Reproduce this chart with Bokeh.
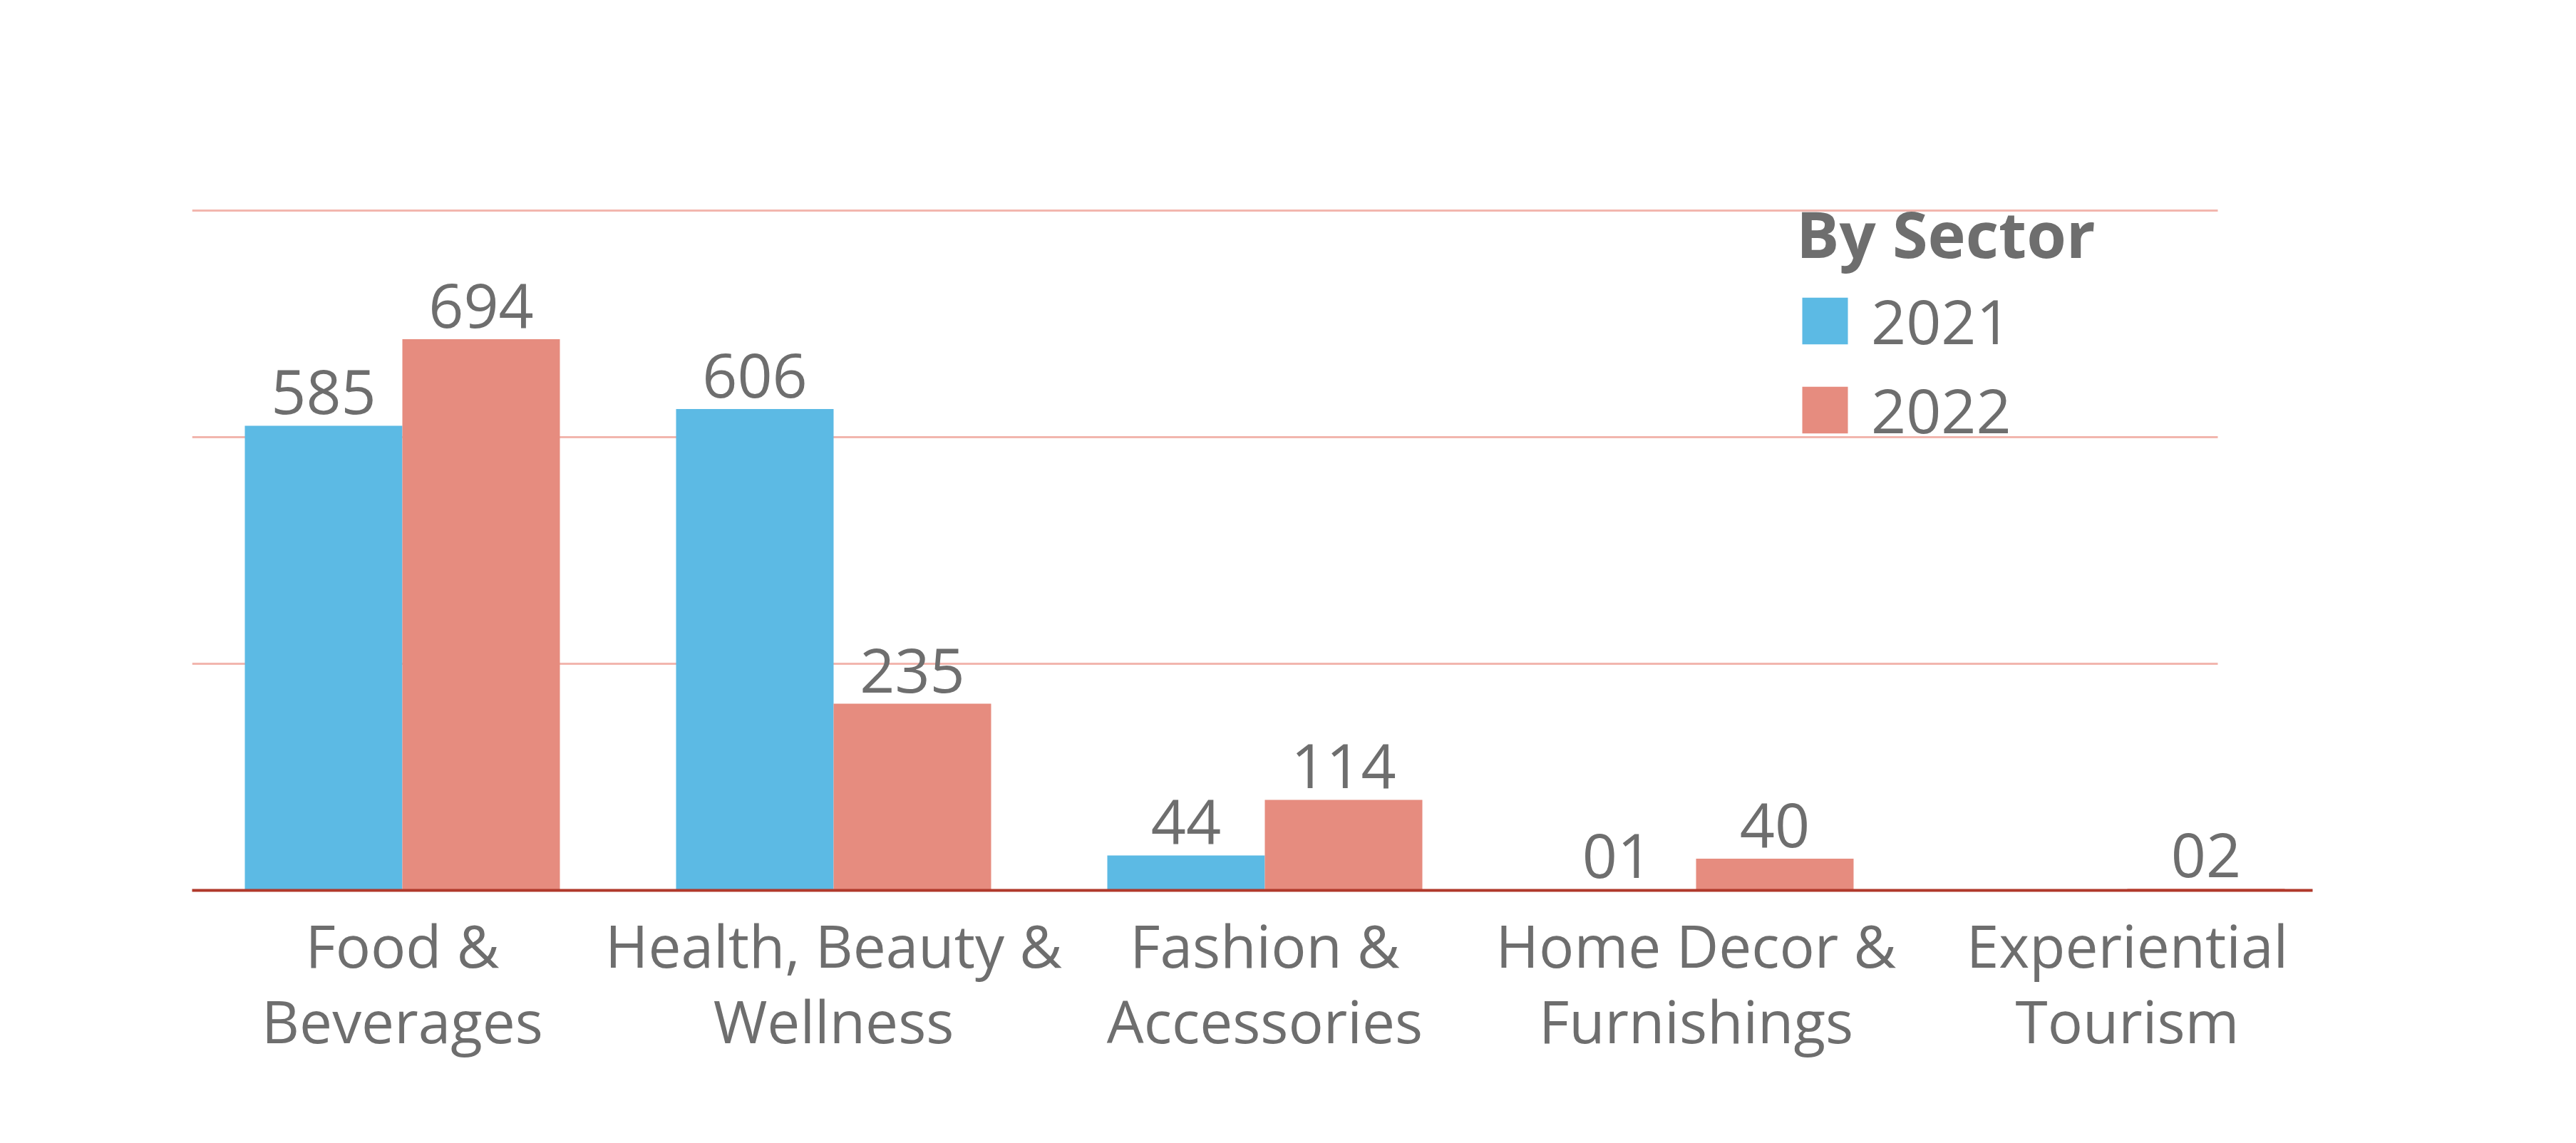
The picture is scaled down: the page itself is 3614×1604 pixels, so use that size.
from bokeh.plotting import figure
from bokeh.models import Range1d, FixedTicker, Legend, LegendItem, ColumnDataSource
from bokeh.core.properties import value
from bokeh.embed import file_html
from bokeh.resources import INLINE

# ---- data ----
categories = ["Food &\nBeverages", "Health, Beauty &\nWellness", "Fashion &\nAccessories",
              "Home Decor &\nFurnishings", "Experiential\nTourism"]
series_names = ["2021", "2022"]
values_2021 = [585, 606, 44, 1, 0]
values_2022 = [694, 235, 114, 40, 2]
legend_title = "By Sector"

# ---- style ----
FONT = "Open Sans"
TEXT_COLOR = "#6e6e6e"
BLUE = "#5cbae4"
SALMON = "#e68c7f"
GRID_COLOR = "#f2b6ae"
AXIS_COLOR = "#b0392b"
BAR_W = 0.3653
GRID_STEP = 285.3
X_LEFT, X_RIGHT, GRID_END = -0.4876, 4.4298, 4.2099

xs = list(range(len(categories)))

p = figure(width=3590, height=1580, output_backend="svg", toolbar_location=None,
           x_range=Range1d(X_LEFT, X_RIGHT), y_range=Range1d(0, 986),
           min_border_left=269, min_border_right=346, min_border_top=150, min_border_bottom=331)
p.outline_line_color = None
p.xgrid.visible = False
p.ygrid.visible = False
p.yaxis.visible = False

# gridlines (limited horizontal extent)
gy = [GRID_STEP * k for k in (1, 2, 3)]
p.segment(x0=[X_LEFT] * 3, x1=[GRID_END] * 3, y0=gy, y1=gy, line_color=GRID_COLOR, line_width=3)

src1 = ColumnDataSource(dict(x=[x - BAR_W / 2 for x in xs], top=values_2021,
                             lab=[f"{v:02d}" if v > 0 else "" for v in values_2021]))
src2 = ColumnDataSource(dict(x=[x + BAR_W / 2 for x in xs], top=values_2022,
                             lab=[f"{v:02d}" if v > 0 else "" for v in values_2022]))

r1 = p.vbar(x="x", top="top", width=BAR_W, bottom=0, source=src1, fill_color=BLUE, line_color=None)
r2 = p.vbar(x="x", top="top", width=BAR_W, bottom=0, source=src2, fill_color=SALMON, line_color=None)

for s in (src1, src2):
    p.text(x="x", y="top", text="lab", source=s, text_align="center", text_baseline="bottom",
           y_offset=-16, text_font=value(FONT), text_font_size="86px", text_color=TEXT_COLOR)

ax = p.xaxis[0]
ax.ticker = FixedTicker(ticks=xs)
ax.major_label_overrides = {i: c for i, c in zip(xs, categories)}
ax.axis_line_color = AXIS_COLOR
ax.axis_line_width = 4
ax.major_tick_line_color = None
ax.minor_tick_line_color = None
ax.major_label_text_font = FONT
ax.major_label_text_font_size = "82px"
ax.major_label_text_color = TEXT_COLOR
ax.major_label_text_line_height = 0.95
ax.major_label_standoff = 14

legend = Legend(items=[LegendItem(label=series_names[0], renderers=[r1]),
                       LegendItem(label=series_names[1], renderers=[r2])],
                location=(2251, 616), title=legend_title,
                title_text_font=FONT, title_text_font_style="bold", title_text_font_size="90px",
                title_text_color=TEXT_COLOR, title_standoff=3,
                label_text_font=FONT, label_text_font_size="86px", label_text_color=TEXT_COLOR,
                glyph_width=80, glyph_height=82, label_standoff=25, spacing=8,
                padding=0, margin=0, background_fill_alpha=0, border_line_alpha=0)
p.add_layout(legend, "center")

open("out.html", "w").write(file_html(p, INLINE))
